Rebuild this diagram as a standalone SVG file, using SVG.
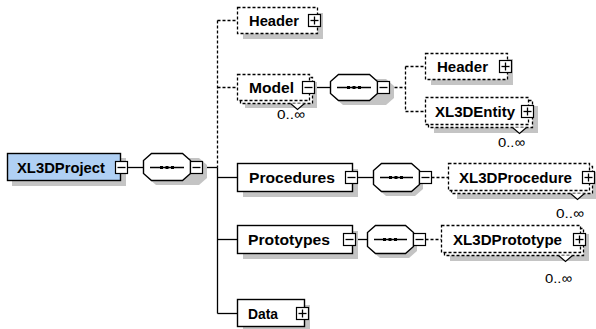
<svg xmlns="http://www.w3.org/2000/svg" xmlns:xlink="http://www.w3.org/1999/xlink" width="596" height="329" viewBox="0 0 596 329">
<style>
.bg{fill:#fff}
.box{fill:#fff;stroke:#000;stroke-width:1.4}
.root{fill:#b0d0f4;stroke:#000;stroke-width:1.4}
.dbox{fill:#fff;stroke:#000;stroke-width:1.3;stroke-dasharray:3 2}
.sh{fill:#c4c4c4}
.lbl{font-family:"Liberation Sans",Arial,sans-serif;font-weight:bold;font-size:15px;fill:#000}
.mult{font-family:"Liberation Sans",Arial,sans-serif;font-size:13.5px;fill:#000}
.con{stroke:#000;stroke-width:1.3;fill:none}
.dcon{stroke:#000;stroke-width:1.3;fill:none;stroke-dasharray:3 2}
.pm{fill:#fff;stroke:#000;stroke-width:1.2}
.chev{fill:#fff;stroke:#000;stroke-width:1.2}
</style>
<defs>
<g id="minus"><rect class="pm" x="0" y="0" width="12" height="12"/><line class="con" x1="2" y1="6" x2="10" y2="6"/></g>
<g id="plus"><rect class="pm" x="0" y="0" width="12" height="12"/><line class="con" x1="2" y1="6" x2="10" y2="6"/><line class="con" x1="6" y1="2" x2="6" y2="10"/></g>
<g id="dots"><rect x="-7" y="-1.5" width="3" height="3"/><rect x="-1.5" y="-1.5" width="3" height="3"/><rect x="4" y="-1.5" width="3" height="3"/></g>
</defs>
<rect class="bg" x="0" y="0" width="596" height="329"/>

<g id="connectors">
<line class="con" x1="127.5" y1="167.5" x2="143.5" y2="167.5"/>
<line class="con" x1="202.5" y1="167.5" x2="217.5" y2="167.5"/>
<line class="dcon" x1="217.5" y1="20.5" x2="217.5" y2="167.5"/>
<line class="con" x1="217.5" y1="167.5" x2="217.5" y2="313.5"/>
<line class="dcon" x1="217.5" y1="20.5" x2="237.5" y2="20.5"/>
<line class="dcon" x1="217.5" y1="87.5" x2="237.5" y2="87.5"/>
<line class="con" x1="217.5" y1="177.5" x2="237.5" y2="177.5"/>
<line class="con" x1="217.5" y1="239.5" x2="237.5" y2="239.5"/>
<line class="con" x1="217.5" y1="313.5" x2="237.5" y2="313.5"/>
<line class="con" x1="314.5" y1="87.5" x2="330.5" y2="87.5"/>
<line class="dcon" x1="389.5" y1="87.5" x2="405.5" y2="87.5"/>
<line class="dcon" x1="405.5" y1="66.5" x2="405.5" y2="111.5"/>
<line class="dcon" x1="405.5" y1="66.5" x2="425.5" y2="66.5"/>
<line class="dcon" x1="405.5" y1="111.5" x2="425.5" y2="111.5"/>
<line class="con" x1="357.5" y1="177.5" x2="373.5" y2="177.5"/>
<line class="dcon" x1="431.5" y1="177.5" x2="448.5" y2="177.5"/>
<line class="con" x1="355.5" y1="239.5" x2="367.5" y2="239.5"/>
<line class="dcon" x1="425.5" y1="239.5" x2="441.5" y2="239.5"/>
</g>

<g id="XL3DProject">
<rect class="sh" x="12" y="158" width="114" height="28"/>
<rect class="root" x="7.5" y="153.5" width="113" height="27"/>
<text class="lbl" x="17" y="172.5" textLength="88" lengthAdjust="spacingAndGlyphs">XL3DProject</text>
<use xlink:href="#minus" x="115.5" y="161.5"/>
</g>

<g id="seq1">
<polygon class="sh" points="156,158 199,158 207,165 207,178 199,185 156,185 148,178 148,165"/>
<polygon class="box" points="151.5,153.5 182.5,153.5 190.5,160.5 190.5,173.5 182.5,180.5 151.5,180.5 143.5,173.5 143.5,160.5"/>
<line class="con" x1="150" y1="167.5" x2="184" y2="167.5"/>
<use xlink:href="#dots" x="167" y="167.5"/>
<use xlink:href="#minus" x="190.5" y="161.5"/>
</g>

<g id="Header">
<rect class="sh" x="243" y="13" width="80" height="26"/>
<rect class="dbox" x="237.5" y="7.5" width="80" height="26"/>
<text class="lbl" x="249" y="26" textLength="50" lengthAdjust="spacingAndGlyphs">Header</text>
<use xlink:href="#plus" x="308.5" y="14.5"/>
</g>

<g id="Model">
<rect class="sh" x="245" y="82" width="72" height="26"/>
<rect class="dbox" x="240.5" y="77.5" width="72" height="26"/>
<rect class="dbox" x="237.5" y="74.5" width="72" height="26"/>
<text class="lbl" x="249" y="93" textLength="45" lengthAdjust="spacingAndGlyphs">Model</text>
<use xlink:href="#minus" x="302.5" y="81.5"/>
<polyline class="chev" points="290.5,103.5 297.5,109.5 304.5,103.5"/>
<text class="mult" x="277" y="119" textLength="28" lengthAdjust="spacingAndGlyphs">0..∞</text>
</g>

<g id="seq2">
<polygon class="sh" points="343,79 386,79 394,86 394,98 386,105 343,105 335,98 335,86"/>
<polygon class="box" points="338.5,74.5 369.5,74.5 377.5,81.5 377.5,93.5 369.5,100.5 338.5,100.5 330.5,93.5 330.5,81.5"/>
<line class="con" x1="337" y1="87.5" x2="371" y2="87.5"/>
<use xlink:href="#dots" x="354" y="87.5"/>
<use xlink:href="#minus" x="377.5" y="81.5"/>
</g>

<g id="Header2">
<rect class="sh" x="431" y="59" width="82" height="26"/>
<rect class="dbox" x="425.5" y="53.5" width="82" height="26"/>
<text class="lbl" x="437" y="72" textLength="51" lengthAdjust="spacingAndGlyphs">Header</text>
<use xlink:href="#plus" x="499.5" y="60.5"/>
</g>

<g id="XL3DEntity">
<rect class="sh" x="434" y="106" width="104" height="27"/>
<rect class="dbox" x="428.5" y="100.5" width="104" height="27"/>
<rect class="dbox" x="425.5" y="97.5" width="103" height="27"/>
<text class="lbl" x="435" y="116.5" textLength="80" lengthAdjust="spacingAndGlyphs">XL3DEntity</text>
<use xlink:href="#plus" x="521.5" y="105.5"/>
<polyline class="chev" points="512.5,127.5 519.5,133.5 526.5,127.5"/>
<text class="mult" x="498" y="147" textLength="27" lengthAdjust="spacingAndGlyphs">0..∞</text>
</g>

<g id="Procedures">
<rect class="sh" x="243" y="169" width="115" height="28"/>
<rect class="box" x="237.5" y="163.5" width="115" height="28"/>
<text class="lbl" x="249" y="183" textLength="86" lengthAdjust="spacingAndGlyphs">Procedures</text>
<use xlink:href="#minus" x="345.5" y="171.5"/>
</g>

<g id="seq3">
<polygon class="sh" points="386,168 415,168 423,175 423,189 415,196 386,196 378,189 378,175"/>
<polygon class="box" points="381.5,163.5 411.5,163.5 419.5,170.5 419.5,184.5 411.5,191.5 381.5,191.5 373.5,184.5 373.5,170.5"/>
<line class="con" x1="380" y1="177.5" x2="413" y2="177.5"/>
<use xlink:href="#dots" x="396" y="177.5"/>
<use xlink:href="#minus" x="419.5" y="171.5"/>
</g>

<g id="XL3DProcedure">
<rect class="sh" x="457" y="172" width="139" height="27"/>
<rect class="dbox" x="451.5" y="166.5" width="141" height="27"/>
<rect class="dbox" x="448.5" y="163.5" width="141" height="27"/>
<text class="lbl" x="459" y="183" textLength="113" lengthAdjust="spacingAndGlyphs">XL3DProcedure</text>
<use xlink:href="#plus" x="582.5" y="171.5"/>
<polyline class="chev" points="570.5,193.5 577.5,199.5 584.5,193.5"/>
<text class="mult" x="556" y="218" textLength="28" lengthAdjust="spacingAndGlyphs">0..∞</text>
</g>

<g id="Prototypes">
<rect class="sh" x="243" y="231" width="115" height="28"/>
<rect class="box" x="237.5" y="225.5" width="115" height="28"/>
<text class="lbl" x="248" y="245" textLength="82" lengthAdjust="spacingAndGlyphs">Prototypes</text>
<use xlink:href="#minus" x="343.5" y="233.5"/>
</g>

<g id="seq4">
<polygon class="sh" points="380,230 409,230 417,237 417,251 409,258 380,258 372,251 372,237"/>
<polygon class="box" points="375.5,225.5 405.5,225.5 413.5,232.5 413.5,246.5 405.5,253.5 375.5,253.5 367.5,246.5 367.5,232.5"/>
<line class="con" x1="374" y1="239.5" x2="407" y2="239.5"/>
<use xlink:href="#dots" x="390" y="239.5"/>
<use xlink:href="#minus" x="413.5" y="233.5"/>
</g>

<g id="XL3DPrototype">
<rect class="sh" x="450" y="234" width="139" height="27"/>
<rect class="dbox" x="444.5" y="228.5" width="139" height="27"/>
<rect class="dbox" x="441.5" y="225.5" width="139" height="27"/>
<text class="lbl" x="453" y="245" textLength="109" lengthAdjust="spacingAndGlyphs">XL3DPrototype</text>
<use xlink:href="#plus" x="573.5" y="233.5"/>
<polyline class="chev" points="558.5,255.5 565.5,261.5 572.5,255.5"/>
<text class="mult" x="545" y="283" textLength="27" lengthAdjust="spacingAndGlyphs">0..∞</text>
</g>

<g id="Data">
<rect class="sh" x="243" y="305" width="67" height="27"/>
<rect class="box" x="237.5" y="299.5" width="67" height="27"/>
<text class="lbl" x="248" y="319" textLength="30" lengthAdjust="spacingAndGlyphs">Data</text>
<use xlink:href="#plus" x="296.5" y="307.5"/>
</g>
</svg>
